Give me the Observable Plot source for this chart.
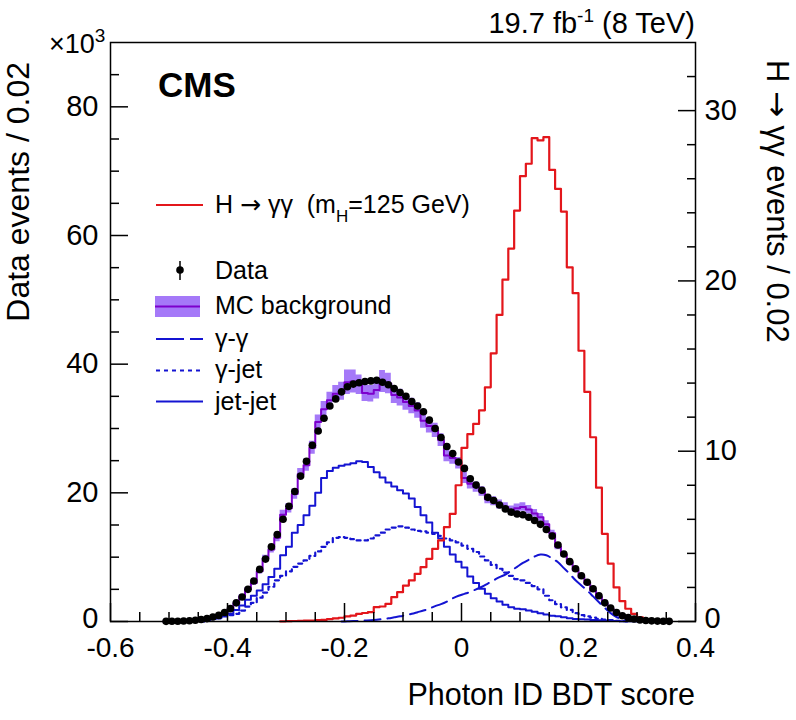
<!DOCTYPE html>
<html><head><meta charset="utf-8">
<script src="https://cdn.jsdelivr.net/npm/d3@7"></script>
<script src="https://cdn.jsdelivr.net/npm/@observablehq/plot@0.6"></script>
<style>
body{margin:0;background:#fff;}
#chart{width:796px;height:720px;}
</style></head><body><div id="chart"></div>
<script>
// ---------- data (values in units of 10^3 events, signal in events) ----------
const binWidth = 0.01;

const dataLo = -0.51;
const dataVals = [0.02,0.03,0.05,0.08,0.12,0.2,0.3,0.45,0.7,0.95,
  1.4,2.0,2.9,3.8,5.0,6.3,8.1,9.7,11.6,13.5,
  15.9,17.9,20.2,22.6,24.9,27.4,29.6,31.6,33.5,34.6,
  35.7,36.5,36.9,37.1,37.3,37.4,37.5,37.2,36.8,36.2,
  35.6,35.0,34.2,33.5,32.6,31.3,30.0,28.6,27.2,26.1,
  24.8,
  23.8,22.2,21.2,20.4,19.3,18.8,18.1,17.5,17.0,16.7,
  16.6,16.2,15.7,15.1,14.3,13.3,11.9,10.5,9.3,8.2,
  7.1,6.1,5.1,4.0,2.9,2.1,1.4,0.9,0.6,0.4,
  0.25,0.15,0.1,0.06,0.04,0.02];

const mcLo = -0.51;
const mcVals = [0.01,0.02,0.04,0.06,0.1,0.15,0.25,0.4,0.6,0.9,
  1.3,1.9,2.8,3.9,5.0,6.0,7.8,9.8,11.2,13.0,
  16.6,17.6,19.8,22.9,24.3,27.0,31.0,33.0,34.4,35.4,
  35.8,37.2,37.3,36.8,35.5,35.4,36.0,37.3,37.0,35.2,
  34.8,34.1,33.5,32.8,31.2,30.4,29.7,28.2,25.8,25.4,
  24.6,
  22.3,21.4,20.9,20.2,19.0,18.7,18.2,17.8,17.3,17.6,
  17.8,17.4,16.8,16.2,15.1,13.7,11.6,10.4,9.2,8.0,
  6.9,5.9,4.8,3.8,2.8,2.0,1.3,0.8,0.5,0.3,
  0.2,0.1,0.05,0.03,0.02,0.01];
const mcErr = [0.01,0.01,0.02,0.02,0.03,0.04,0.05,0.06,0.08,0.1,
  0.12,0.15,0.2,0.25,0.3,0.35,0.4,0.5,0.55,0.6,
  0.7,0.75,0.8,0.9,0.95,1.0,1.1,1.2,1.25,1.3,
  1.4,1.9,1.8,1.5,1.3,1.3,1.4,1.7,1.6,1.3,
  1.3,1.25,1.2,1.2,1.15,1.1,1.1,1.0,0.95,0.95,
  0.9,
  0.85,0.8,0.8,0.75,0.7,0.7,0.7,0.65,0.65,0.65,
  0.65,0.65,0.6,0.6,0.55,0.5,0.45,0.4,0.35,0.3,
  0.28,0.25,0.2,0.18,0.15,0.12,0.1,0.08,0.06,0.04,
  0.03,0.02,0.01,0.01,0.01,0.01];

const jjLo = -0.44;
const jjVals = [0.2,0.4,0.6,0.9,1.2,1.8,2.5,3.4,4.0,4.8,
  5.8,6.9,8.2,10.3,11.6,13.8,15.0,16.5,18.0,20.0,
  22.3,23.4,23.9,24.2,24.4,24.6,24.9,24.8,24.0,23.2,
  22.4,21.6,21.0,20.4,19.9,19.1,17.8,16.5,15.4,13.8,
  12.9,11.6,10.4,9.3,8.4,7.0,6.0,5.1,4.3,3.6,
  3.1,2.6,2.2,2.0,1.9,1.7,1.5,1.3,1.1,0.9,
  0.8,0.65,0.5,0.4,0.35,0.3,0.25,0.2,0.15,0.1,
  0.07,0.05,0.03,0.02];

const gjLo = -0.44;
const gjVals = [0.2,0.35,0.5,0.8,1.0,1.2,1.7,2.3,2.9,3.7,
  4.5,5.4,6.4,7.1,7.8,8.5,9.0,9.5,10.2,10.9,
  11.6,12.3,13.0,13.1,13.0,12.8,12.6,12.6,12.9,13.4,
  13.8,14.3,14.6,14.8,14.6,14.3,14.1,14.0,13.8,13.6,
  13.3,12.9,12.6,12.3,11.8,11.3,10.8,10.1,9.5,8.8,
  8.2,7.6,7.1,6.6,6.4,6.0,5.5,5.0,4.0,3.3,
  2.7,2.2,1.8,1.3,1.0,0.8,0.6,0.4,0.3,0.2,
  0.1,0.06,0.03];

const ggLo = -0.21;
const ggVals = [0.0,0.03,0.06,0.1,0.15,0.2,0.28,0.38,0.5,0.65,
  0.8,1.0,1.2,1.45,1.7,2.0,2.4,2.7,3.1,3.6,
  4.0,4.3,4.6,5.0,5.4,5.9,6.4,6.9,7.3,7.9,
  8.5,9.1,9.6,10.1,10.4,10.3,9.8,9.2,8.3,7.4,
  6.4,5.6,4.8,3.9,3.0,2.1,1.3,0.7,0.35,0.15,
  0.05];

const sigLo = -0.31;
const sigVals = [0.01,0.02,0.03,0.04,0.05,0.06,0.08,0.1,0.14,0.18,
  0.22,0.3,0.35,0.45,0.5,0.55,0.84,0.88,1.04,1.43,
  1.72,2.11,2.41,2.80,3.19,3.68,4.27,4.76,5.54,6.32,
  8.0,10.2,11.0,11.6,12.4,13.75,15.75,18.0,20.07,21.9,
  24.13,26.15,26.88,28.38,28.25,28.44,26.52,25.4,24.07,20.8,
  19.28,15.9,13.48,10.82,7.86,5.15,3.4,2.0,1.2,0.75,
  0.45,0.25,0.12,0.06,0.03];

// ---------- axes ----------
const xDomain = [-0.6, 0.4];
const xTicksMajor = [-0.6,-0.4,-0.2,0,0.2,0.4];
const xTicksMinor = [-0.55,-0.5,-0.45,-0.35,-0.3,-0.25,-0.15,-0.1,-0.05,0.05,0.1,0.15,0.25,0.3,0.35];
const yLeftMax = 90;
const yLeftMajor = [0,20,40,60,80];
const yLeftMinor = [5,10,15,25,30,35,45,50,55,65,70,75,85];
const yRightMax = 34;
const yRightMajor = [0,10,20,30];
const yRightMinor = [2,4,6,8,12,14,16,18,22,24,26,28,32];

const RED = "#e3161b", BLUE = "#1414d2", PURPLE = "#7d00cc", BAND = "#9561f7";
const FONT = "'Liberation Sans', Arial, Helvetica, sans-serif";
const SYM = "'DejaVu Sans', sans-serif";
const k = yLeftMax / yRightMax;

function steps(lo, vals, scale = 1) {
  const pts = [{x: lo, y: 0}];
  vals.forEach((v, i) => {
    pts.push({x: lo + i * binWidth, y: v * scale}, {x: lo + (i + 1) * binWidth, y: v * scale});
  });
  pts.push({x: lo + vals.length * binWidth, y: 0});
  return pts;
}
const bandPts = [];
mcVals.forEach((v, i) => {
  const e = mcErr[i];
  [mcLo + i * binWidth, mcLo + (i + 1) * binWidth].forEach(x => bandPts.push({x, lo: Math.max(0, v - e), hi: v + e}));
});
const ggPts = ggVals.map((v, i) => ({x: ggLo + (i + 0.5) * binWidth, y: v}));
const dataPts = dataVals.map((v, i) => ({x: dataLo + (i + 0.5) * binWidth, y: v}));
const fmtX = d => String(Math.round(d * 10) / 10);
const rightFmt = d => String(Math.round(d / k));

const plot = Plot.plot({
  width: 796, height: 720,
  marginLeft: 110, marginRight: 101, marginTop: 42, marginBottom: 99,
  style: {fontFamily: FONT, color: "black", background: "white"},
  x: {domain: xDomain},
  y: {domain: [0, yLeftMax]},
  marks: [
    Plot.areaY(bandPts, {x: "x", y1: "lo", y2: "hi", fill: BAND, fillOpacity: 0.85}),
    Plot.line(steps(mcLo, mcVals), {x: "x", y: "y", stroke: PURPLE, strokeWidth: 2}),
    Plot.line(ggPts, {x: "x", y: "y", stroke: BLUE, strokeWidth: 2, strokeDasharray: "16,7", curve: "catmull-rom"}),
    Plot.line(steps(gjLo, gjVals), {x: "x", y: "y", stroke: BLUE, strokeWidth: 2.2, strokeDasharray: "4,4"}),
    Plot.line(steps(jjLo, jjVals), {x: "x", y: "y", stroke: BLUE, strokeWidth: 2}),
    Plot.line(steps(sigLo, sigVals, k), {x: "x", y: "y", stroke: RED, strokeWidth: 2.2}),
    Plot.dot(dataPts, {x: "x", y: "y", r: 3.8, fill: "black"}),
    Plot.frame({stroke: "black", strokeWidth: 1.5}),
    // bottom axis
    Plot.axisX(xTicksMajor, {anchor: "bottom", tickSize: -18, strokeWidth: 1.5, fill: "none", label: null}),
    Plot.axisX(xTicksMinor, {anchor: "bottom", tickSize: -9, strokeWidth: 1.5, fill: "none", label: null}),
    Plot.axisX(xTicksMajor, {anchor: "bottom", tickSize: 0, tickPadding: 16, tickFormat: fmtX, fontSize: 28, label: null}),
    // left axis
    Plot.axisY(yLeftMajor, {anchor: "left", tickSize: -18, strokeWidth: 1.5, fill: "none", label: null}),
    Plot.axisY(yLeftMinor, {anchor: "left", tickSize: -9, strokeWidth: 1.5, fill: "none", label: null}),
    Plot.axisY(yLeftMajor.slice(1), {anchor: "left", tickSize: 0, tickPadding: 12, fontSize: 29, label: null}),
    Plot.axisY(yLeftMajor.slice(0, 1), {anchor: "left", tickSize: 0, tickPadding: 12, fontSize: 29, label: null, dy: -3}),
    // right axis (signal)
    Plot.axisY(yRightMajor.map(v => v * k), {anchor: "right", tickSize: -18, strokeWidth: 1.5, fill: "none", label: null}),
    Plot.axisY(yRightMinor.map(v => v * k), {anchor: "right", tickSize: -9, strokeWidth: 1.5, fill: "none", label: null}),
    Plot.axisY(yRightMajor.slice(1).map(v => v * k), {anchor: "right", tickSize: 0, tickPadding: 9, fontSize: 29, label: null, tickFormat: rightFmt}),
    Plot.axisY(yRightMajor.slice(0, 1).map(v => v * k), {anchor: "right", tickSize: 0, tickPadding: 9, fontSize: 29, label: null, tickFormat: rightFmt, dy: -3})
  ]
});
document.getElementById("chart").appendChild(plot);

// ---------- annotations, titles, legend ----------
const svg = d3.select(plot);
const g = svg.append("g").attr("font-family", FONT).attr("fill", "black");

function addText(x, y, parts, size, opts = {}) {
  const t = g.append("text").attr("x", x).attr("y", y).attr("font-size", size)
    .attr("text-anchor", opts.anchor || "start").attr("xml:space", "preserve");
  if (opts.transform) t.attr("transform", opts.transform);
  if (opts.weight) t.attr("font-weight", opts.weight);
  parts.forEach(p => {
    const s = t.append("tspan").text(p.t);
    if (p.size) s.attr("font-size", p.size);
    if (p.dy) s.attr("dy", p.dy);
    if (p.font) s.attr("font-family", p.font);
  });
  return t;
}

// x10^3
addText(49, 53, [{t: "×10"}, {t: "3", size: 19, dy: -11}], 27);
// lumi
addText(695, 33, [{t: "19.7 fb"}, {t: "-1", size: 19, dy: -11}, {t: " (8 TeV)", dy: 11}], 29, {anchor: "end"});
// CMS
addText(158, 97, [{t: "CMS"}], 35, {weight: "bold"});
// axis titles
addText(0, 0, [{t: "Data events / 0.02"}], 32, {anchor: "end", transform: "translate(29,62) rotate(-90)"});
addText(0, 0, [{t: "H "}, {t: "→", font: SYM}, {t: " γγ events / 0.02"}], 31, {anchor: "start", transform: "translate(767,60) rotate(90)"});
addText(695, 705, [{t: "Photon ID BDT score"}], 30.5, {anchor: "end"});

// legend
const LX0 = 156, LX1 = 203, TX = 215, FS = 25;
g.append("line").attr("x1", LX0).attr("x2", LX1).attr("y1", 205).attr("y2", 205).attr("stroke", RED).attr("stroke-width", 2.2);
addText(TX, 213, [{t: "H "}, {t: "→", font: SYM}, {t: " γγ  (m"}, {t: "H", size: 17, dy: 9}, {t: "=125 GeV)", dy: -9}], FS);

g.append("line").attr("x1", 180).attr("x2", 180).attr("y1", 261).attr("y2", 280).attr("stroke", "black").attr("stroke-width", 1.5);
g.append("circle").attr("cx", 180).attr("cy", 270).attr("r", 3.8).attr("fill", "black");
addText(TX, 279, [{t: "Data"}], FS);

g.append("rect").attr("x", 155).attr("y", 296).attr("width", 45).attr("height", 21).attr("fill", BAND).attr("fill-opacity", 0.85);
g.append("line").attr("x1", 155).attr("x2", 200).attr("y1", 306.5).attr("y2", 306.5).attr("stroke", PURPLE).attr("stroke-width", 2);
addText(TX, 314, [{t: "MC background"}], FS);

g.append("line").attr("x1", LX0).attr("x2", LX1).attr("y1", 339).attr("y2", 339).attr("stroke", BLUE).attr("stroke-width", 2).attr("stroke-dasharray", "28,6");
addText(TX, 347, [{t: "γ-γ"}], FS);

g.append("line").attr("x1", LX0).attr("x2", LX1).attr("y1", 370.5).attr("y2", 370.5).attr("stroke", BLUE).attr("stroke-width", 2.2).attr("stroke-dasharray", "4,4");
addText(TX, 378, [{t: "γ-jet"}], FS);

g.append("line").attr("x1", LX0).attr("x2", LX1).attr("y1", 401.5).attr("y2", 401.5).attr("stroke", BLUE).attr("stroke-width", 2);
addText(TX, 410, [{t: "jet-jet"}], FS);
</script></body></html>
